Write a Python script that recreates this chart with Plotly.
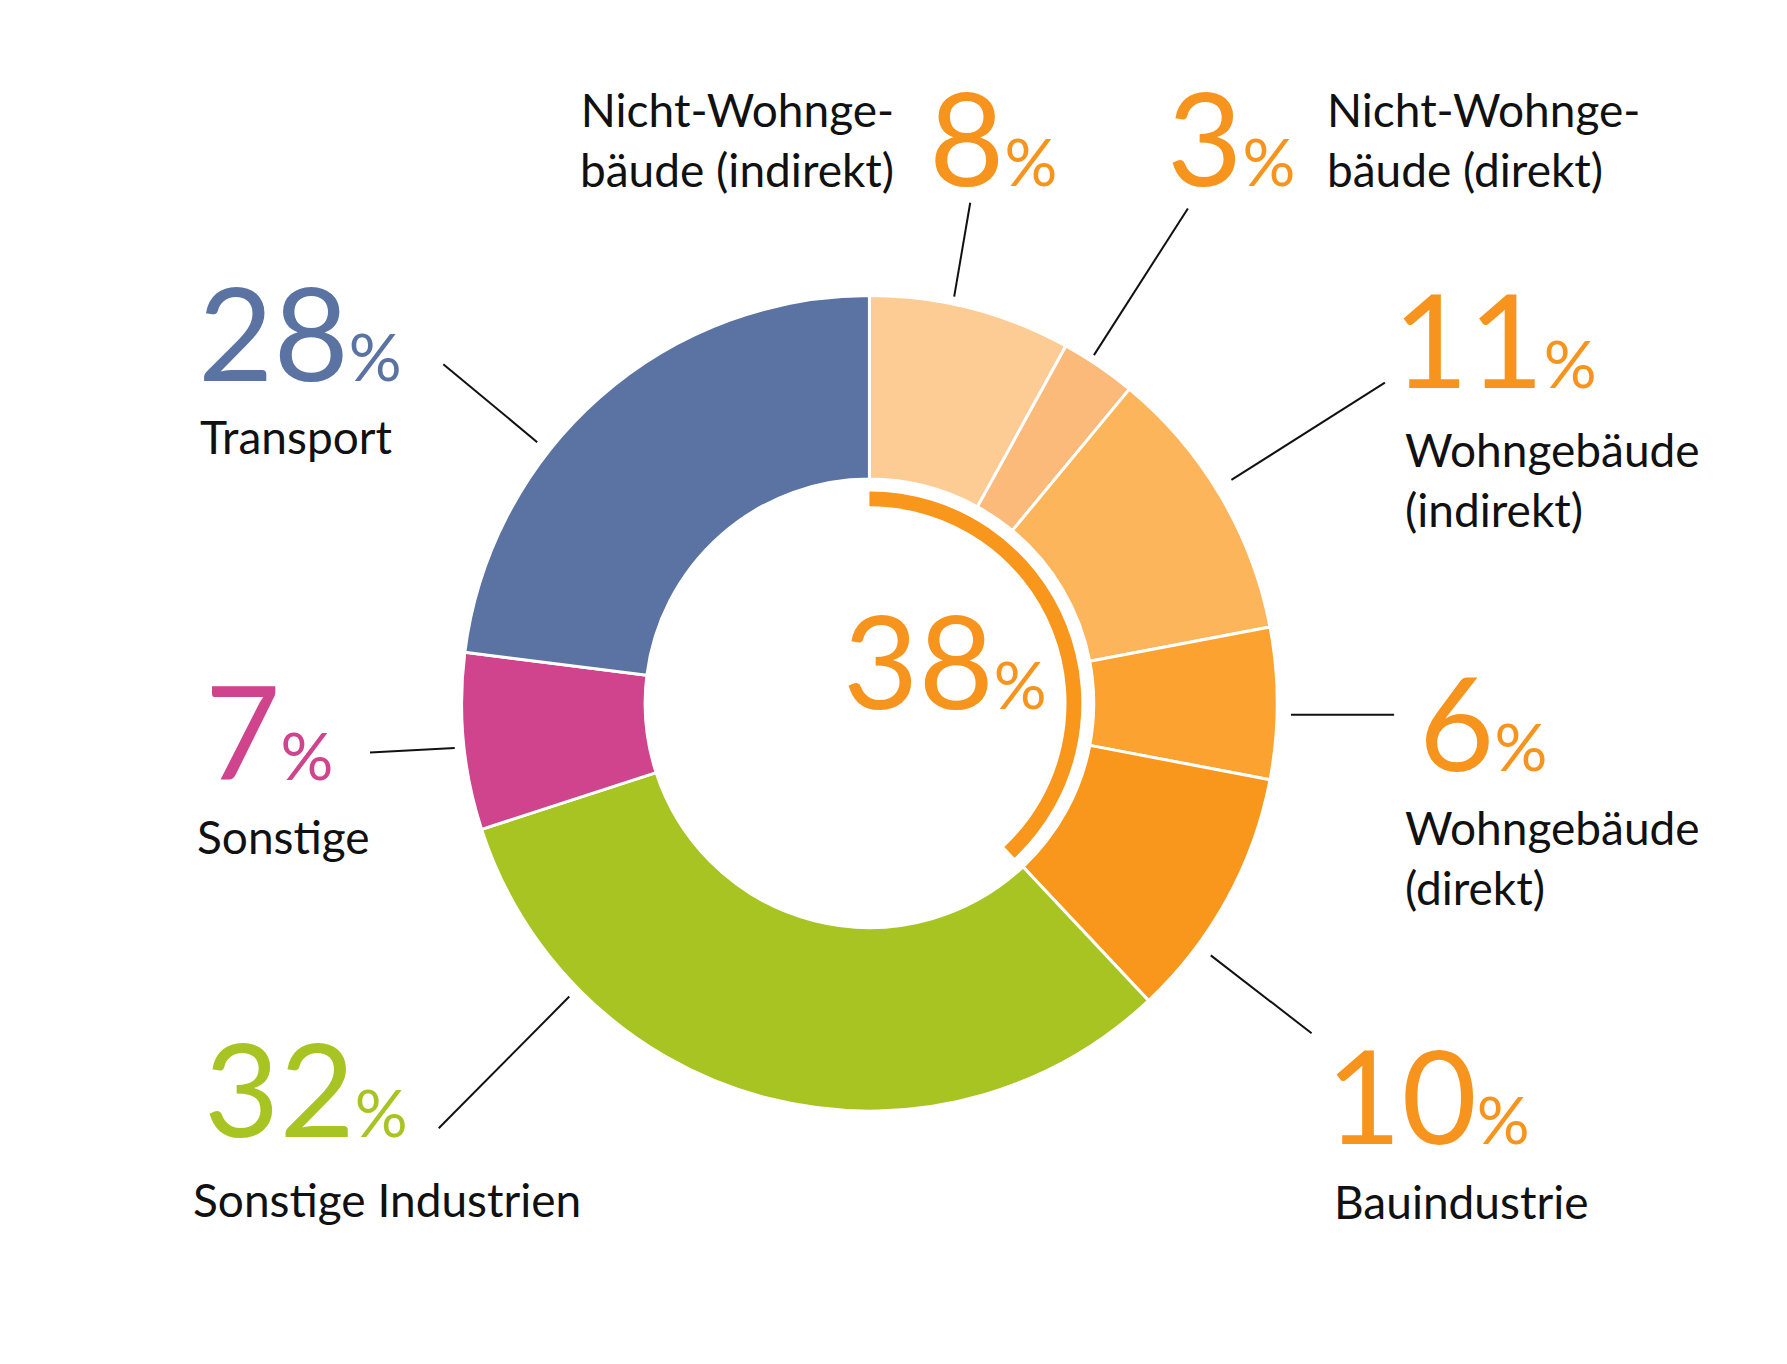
import plotly.graph_objects as go

categories = ["Nicht-Wohngebäude (indirekt)", "Nicht-Wohngebäude (direkt)", "Wohngebäude (indirekt)",
              "Wohngebäude (direkt)", "Bauindustrie", "Sonstige Industrien", "Sonstige", "Transport"]
label_values = [8, 3, 11, 6, 10, 32, 7, 28]
# slice sizes as drawn in the reference (Transport arc is drawn smaller than its label)
slice_values = [8, 3, 11, 6, 10, 32, 7, 23]
colors = ["#FDCB94", "#FBB97A", "#FDB55C", "#FBA231", "#F8971B", "#A8C423", "#CF448C", "#5A73A3"]
building_total = [38, 62]

W, H = 1787, 1364
S = W / 1560.0
def px(x): return (x - 10) * S / W
def py(y): return 1 - (y - 10) * S / H

fig = go.Figure()
cx, cy, R = 762, 617, 356
fig.add_trace(go.Pie(values=slice_values, labels=categories, sort=False, direction="clockwise", rotation=0,
                     hole=0.55, marker=dict(colors=colors, line=dict(color="white", width=3)),
                     textinfo="none", showlegend=False,
                     domain=dict(x=[px(cx - R), px(cx + R)], y=[py(cy + R), py(cy - R)])))
r = 185
fig.add_trace(go.Pie(values=building_total, sort=False, direction="clockwise", rotation=0,
                     hole=0.93, marker=dict(colors=["#F8971B", "rgba(0,0,0,0)"], line=dict(width=0)),
                     textinfo="none", showlegend=False, hoverinfo="skip",
                     domain=dict(x=[px(cx - r), px(cx + r)], y=[py(cy + r), py(cy - r)])))

FONT = "Lato"
BIG, PCT, LBL = 130, 66, 46
def pct(n, color, x, y, xanchor="center"):
    fig.add_annotation(x=px(x), y=py(y), xref="paper", yref="paper", xanchor=xanchor, yanchor="middle",
                       showarrow=False,
                       text=f"<span style='font-size:{BIG}px'>{n}</span><span style='font-size:{PCT}px'>%</span>",
                       font=dict(family=FONT, color=color, size=BIG))
def lbl(t, x, y, xanchor="left"):
    fig.add_annotation(x=px(x), y=py(y), xref="paper", yref="paper", xanchor=xanchor, yanchor="middle",
                       showarrow=False, text=t, align=xanchor,
                       font=dict(family=FONT, color="#111111", size=LBL))
def line(x0, y0, x1, y1):
    fig.add_shape(type="line", xref="paper", yref="paper", x0=px(x0), y0=py(y0), x1=px(x1), y1=py(y1),
                  line=dict(color="#111111", width=2))

OR = "#F7941D"
pct(label_values[0], OR, 870, 122); lbl("Nicht-Wohnge-<br>bäude (indirekt)", 785, 125, "right")
pct(label_values[1], OR, 1078, 122); lbl("Nicht-Wohnge-<br>bäude (direkt)", 1160, 125)
pct(label_values[2], OR, 1308, 298); lbl("Wohngebäude<br>(indirekt)", 1228, 422)
pct(label_values[3], OR, 1298, 632); lbl("Wohngebäude<br>(direkt)", 1228, 752)
pct(label_values[4], OR, 1250, 958); lbl("Bauindustrie", 1166, 1052)
pct(label_values[5], "#A8C423", 270, 952); lbl("Sonstige Industrien", 170, 1050)
pct(label_values[6], "#CF448C", 238, 640); lbl("Sonstige", 173, 733)
pct(label_values[7], "#5A73A3", 265, 292); lbl("Transport", 176, 384)
pct(building_total[0], OR, 828, 578)

line(850, 180, 836, 262); line(1040, 185, 958, 313); line(1212, 337, 1078, 422)
line(1130, 627, 1220, 627); line(1060, 837, 1148, 905); line(500, 873, 386, 988)
line(326, 660, 400, 656); line(390, 321, 472, 389)

fig.update_layout(width=W, height=H, margin=dict(l=0, r=0, t=0, b=0),
                  paper_bgcolor="white", plot_bgcolor="white")
fig.write_html("out.html")
